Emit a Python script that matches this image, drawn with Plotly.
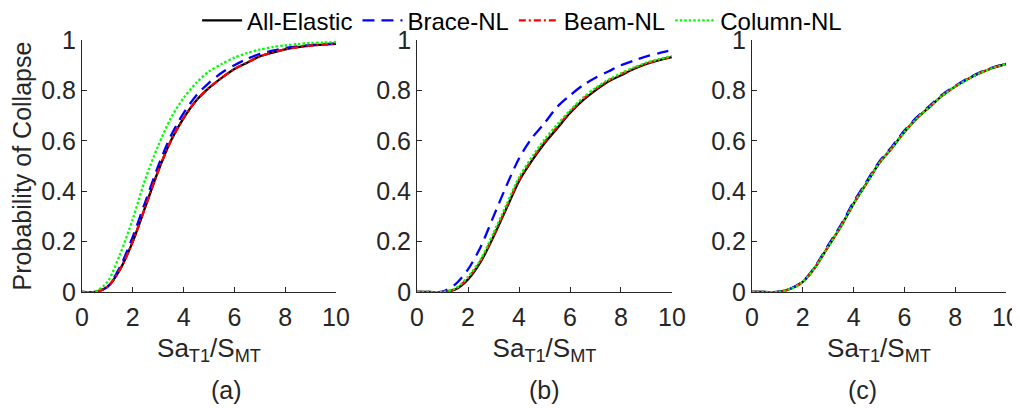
import plotly.graph_objects as go

# ---------------- data ----------------
x_vals = [0, 0.5, 1, 1.5, 2, 2.5, 3, 3.5, 4, 4.5, 5, 5.5, 6, 6.5, 7, 7.5, 8, 8.5, 9, 9.5, 10]

series_names = ["All-Elastic", "Brace-NL", "Beam-NL", "Column-NL"]
panel_labels = ["(a)", "(b)", "(c)"]

# Panel (a)
a_all_elastic = [0, 0, 0.02, 0.09, 0.20, 0.34, 0.48, 0.60, 0.69, 0.76, 0.81, 0.85, 0.885, 0.91, 0.935, 0.95, 0.963, 0.972, 0.978, 0.982, 0.985]
a_brace_nl    = [0, 0, 0.02, 0.10, 0.22, 0.36, 0.50, 0.62, 0.71, 0.78, 0.83, 0.87, 0.90, 0.925, 0.945, 0.958, 0.968, 0.975, 0.980, 0.984, 0.987]
a_beam_nl     = [0, 0, 0.02, 0.09, 0.20, 0.34, 0.48, 0.60, 0.69, 0.76, 0.81, 0.85, 0.885, 0.91, 0.935, 0.95, 0.963, 0.972, 0.978, 0.982, 0.985]
a_column_nl   = [0, 0, 0.04, 0.15, 0.29, 0.45, 0.58, 0.69, 0.77, 0.83, 0.875, 0.905, 0.93, 0.948, 0.962, 0.972, 0.979, 0.984, 0.988, 0.990, 0.992]

# Panel (b)
b_all_elastic = [0, 0, 0, 0.01, 0.05, 0.12, 0.22, 0.33, 0.44, 0.52, 0.59, 0.65, 0.71, 0.76, 0.80, 0.835, 0.86, 0.885, 0.905, 0.92, 0.932]
b_brace_nl    = [0, 0, 0.002, 0.03, 0.09, 0.18, 0.30, 0.42, 0.53, 0.61, 0.67, 0.735, 0.78, 0.82, 0.85, 0.875, 0.90, 0.918, 0.935, 0.948, 0.96]
b_beam_nl     = [0, 0, 0, 0.012, 0.055, 0.125, 0.225, 0.335, 0.445, 0.525, 0.595, 0.655, 0.715, 0.765, 0.805, 0.838, 0.864, 0.888, 0.907, 0.922, 0.934]
b_column_nl   = [0, 0, 0, 0.014, 0.06, 0.13, 0.235, 0.345, 0.455, 0.535, 0.605, 0.665, 0.72, 0.77, 0.81, 0.842, 0.868, 0.891, 0.91, 0.924, 0.936]

# Panel (c)
c_all_elastic = [0, 0, 0, 0.012, 0.04, 0.10, 0.18, 0.26, 0.35, 0.43, 0.51, 0.57, 0.635, 0.69, 0.735, 0.78, 0.815, 0.845, 0.87, 0.89, 0.905]
c_brace_nl    = [0, 0, 0, 0.013, 0.042, 0.104, 0.186, 0.267, 0.357, 0.437, 0.516, 0.576, 0.641, 0.695, 0.74, 0.784, 0.818, 0.848, 0.873, 0.892, 0.907]
c_beam_nl     = [0, 0, 0, 0.012, 0.04, 0.10, 0.18, 0.26, 0.35, 0.43, 0.51, 0.57, 0.635, 0.69, 0.735, 0.78, 0.815, 0.845, 0.87, 0.89, 0.905]
c_column_nl   = [0, 0, 0, 0.012, 0.04, 0.10, 0.18, 0.26, 0.35, 0.43, 0.51, 0.57, 0.635, 0.69, 0.735, 0.78, 0.815, 0.845, 0.87, 0.89, 0.905]

panels = [
    [a_all_elastic, a_brace_nl, a_beam_nl, a_column_nl],
    [b_all_elastic, b_brace_nl, b_beam_nl, b_column_nl],
    [c_all_elastic, c_brace_nl, c_beam_nl, c_column_nl],
]

x_tick_vals = [0, 2, 4, 6, 8, 10]
y_tick_vals = [0, 0.2, 0.4, 0.6, 0.8, 1]

# ---------------- styling ----------------
colors = ["#000000", "#0000FF", "#FF0000", "#00FF00"]
dashes = ["solid", "12px,7px", "7px,3px,2px,3px", "2.5px,2px"]
FONT = "Liberation Sans, Arial, sans-serif"
AXC = "#262626"

domains = [[0.0, 0.2749], [0.3626, 0.6385], [0.7251, 1.0]]

fig = go.Figure()
for p, series in enumerate(panels):
    xa = "x" if p == 0 else f"x{p+1}"
    ya = "y" if p == 0 else f"y{p+1}"
    for s, vals in enumerate(series):
        fig.add_trace(go.Scatter(
            x=x_vals, y=vals, mode="lines", name=series_names[s],
            line=dict(color=colors[s], dash=dashes[s], width=2.3, shape="spline", smoothing=0.8),
            xaxis=xa, yaxis=ya, showlegend=(p == 0),
        ))

axis_common = dict(showline=True, linecolor=AXC, linewidth=1, ticks="inside", ticklen=5,
                   tickcolor=AXC, showgrid=False, zeroline=False, mirror=False, automargin=True,
                   tickfont=dict(family=FONT, size=25, color=AXC))

# page has an 8px body margin, so the figure is 1012x400
layout = dict(
    template="none",
    width=1012, height=400,
    margin=dict(l=74, r=14, t=32, b=116, autoexpand=False),
    paper_bgcolor="white", plot_bgcolor="white",
    font=dict(family=FONT, color=AXC),
    legend=dict(orientation="h", xref="container", x=0.508, xanchor="center",
                yref="container", y=0.968, yanchor="middle",
                font=dict(family=FONT, size=24, color="#000000"),
                bgcolor="rgba(255,255,255,0)", itemwidth=40, tracegroupgap=0),
)
for p in range(3):
    xk = "xaxis" if p == 0 else f"xaxis{p+1}"
    yk = "yaxis" if p == 0 else f"yaxis{p+1}"
    layout[xk] = dict(axis_common, domain=domains[p], range=[0, 10], tickvals=x_tick_vals,
                      anchor="y" if p == 0 else f"y{p+1}", ticklabelstandoff=3,
                      title=dict(text="Sa<sub>T1</sub>/S<sub>MT</sub>",
                                 font=dict(family=FONT, size=26, color=AXC), standoff=8))
    layout[yk] = dict(axis_common, domain=[0, 1], range=[0, 1], tickvals=y_tick_vals,
                      anchor="x" if p == 0 else f"x{p+1}")
layout["yaxis"]["title"] = dict(text="Probability of Collapse",
                                font=dict(family=FONT, size=25, color=AXC), standoff=4)

fig.update_layout(**layout)

for p in range(3):
    fig.add_annotation(text=panel_labels[p], x=sum(domains[p]) / 2, xref="paper",
                       y=-0.389, yref="paper", yanchor="middle", showarrow=False,
                       font=dict(family=FONT, size=25, color=AXC))

fig.write_html("out.html")
